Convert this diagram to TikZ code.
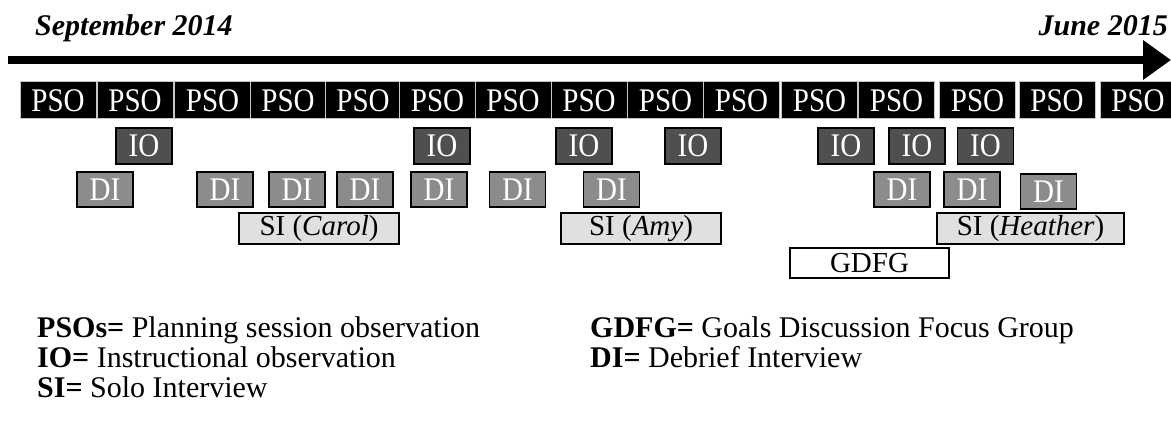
\documentclass[tikz,border=0pt]{standalone}
\usepackage{fontspec}
\setmainfont{Liberation Serif}
\newfontfamily\boxfont{Liberation Serif}[FakeStretch=0.88]
\usetikzlibrary{arrows.meta}

\definecolor{iofill}{gray}{0.31}
\definecolor{difill}{gray}{0.55}
\definecolor{sifill}{gray}{0.88}

\begin{document}
\begin{tikzpicture}[x = 1pt, y = -1pt,
    every node/.style = { font = \fontsize{29}{34}\selectfont, inner sep = 0pt },
    pso/.style = { draw = gray!45, line width = 1pt, fill = black, text = white,
                   font = \boxfont\fontsize{33}{38}\selectfont,
                   minimum width = 76pt, minimum height = 37pt },
    io/.style = { draw = black, line width = 1.5pt, fill = iofill, text = white,
                  font = \boxfont\fontsize{33}{38}\selectfont,
                  minimum width = 56pt, minimum height = 36pt },
    di/.style = { draw = black, line width = 1.5pt, fill = difill, text = white,
                  font = \boxfont\fontsize{33}{38}\selectfont,
                  minimum width = 56pt, minimum height = 35pt },
    si/.style = { draw = black, line width = 1.5pt, fill = sifill,
                  minimum height = 31pt },
    key/.style = { anchor = base west, font = \fontsize{30}{34}\selectfont } ]
    \useasboundingbox (0,0) rectangle (1171,425);

    % timeline
    \node [anchor = base west, font = \fontsize{30}{34}\selectfont] (start-label) at (35,36) { \textbf{\textit{September 2014}} };
    \node [anchor = base east, font = \fontsize{30}{34}\selectfont] (end-label) at (1168,36) { \textbf{\textit{June 2015}} };
    \coordinate (start) at (8,60);
    \coordinate (end) at (1171,60);
    \draw [line width = 8pt, -{Triangle[length = 28pt, width = 38pt]}] (start) -- (end);

    % planning session observations
    \node [pso] (pso1) at (58,100.5) { PSO };
    \node [pso] (pso2) at (135,100.5) { PSO };
    \node [pso] (pso3) at (212.5,100.5) { PSO };
    \node [pso] (pso4) at (288,100.5) { PSO };
    \node [pso] (pso5) at (363,100.5) { PSO };
    \node [pso] (pso6) at (437.5,100.5) { PSO };
    \node [pso] (pso7) at (513,100.5) { PSO };
    \node [pso] (pso8) at (589,100.5) { PSO };
    \node [pso] (pso9) at (665.5,100.5) { PSO };
    \node [pso] (pso10) at (741.5,100.5) { PSO };
    \node [pso] (pso11) at (819.5,100.5) { PSO };
    \node [pso] (pso12) at (896.5,100.5) { PSO };
    \node [pso] (pso13) at (977.5,100.5) { PSO };
    \node [pso] (pso14) at (1057,100.5) { PSO };
    \node [pso] (pso15) at (1138,100.5) { PSO };

    % instructional observations
    \node [io] (io1) at (144,146) { IO };
    \node [io] (io2) at (442,146) { IO };
    \node [io] (io3) at (584,146) { IO };
    \node [io] (io4) at (693,146) { IO };
    \node [io] (io5) at (846,146) { IO };
    \node [io] (io6) at (917,146) { IO };
    \node [io] (io7) at (985.5,146) { IO };

    % debrief interviews
    \node [di] (di1) at (105,189.5) { DI };
    \node [di] (di2) at (225,189.5) { DI };
    \node [di] (di3) at (297,189.5) { DI };
    \node [di] (di4) at (365,189.5) { DI };
    \node [di] (di5) at (439,189.5) { DI };
    \node [di] (di6) at (517.5,189.5) { DI };
    \node [di] (di7) at (611.5,189.5) { DI };
    \node [di] (di8) at (902,189.5) { DI };
    \node [di] (di9) at (972,189.5) { DI };
    \node [di] (di10) at (1048.5,191.5) { DI };

    % solo interviews and focus group
    \node [si, minimum width = 160pt] (si-carol) at (319,228.5) { SI (\textit{Carol}) };
    \node [si, minimum width = 160pt] (si-amy) at (641,228.5) { SI (\textit{Amy}) };
    \node [si, minimum width = 187pt] (si-heather) at (1030.5,228.5) { SI (\textit{Heather}) };
    \node [si, fill = white, minimum width = 159pt, minimum height = 30pt] (gdfg) at (869.5,263) { GDFG };

    % legend
    \node [key] (key-pso) at (37,337) { \textbf{PSOs=} Planning session observation };
    \node [key] (key-io) at (37,367) { \textbf{IO=} Instructional observation };
    \node [key] (key-si) at (37,397) { \textbf{SI=} Solo Interview };
    \node [key] (key-gdfg) at (590,337) { \textbf{GDFG=} Goals Discussion Focus Group };
    \node [key] (key-di) at (590,367) { \textbf{DI=} Debrief Interview };
\end{tikzpicture}
\end{document}
